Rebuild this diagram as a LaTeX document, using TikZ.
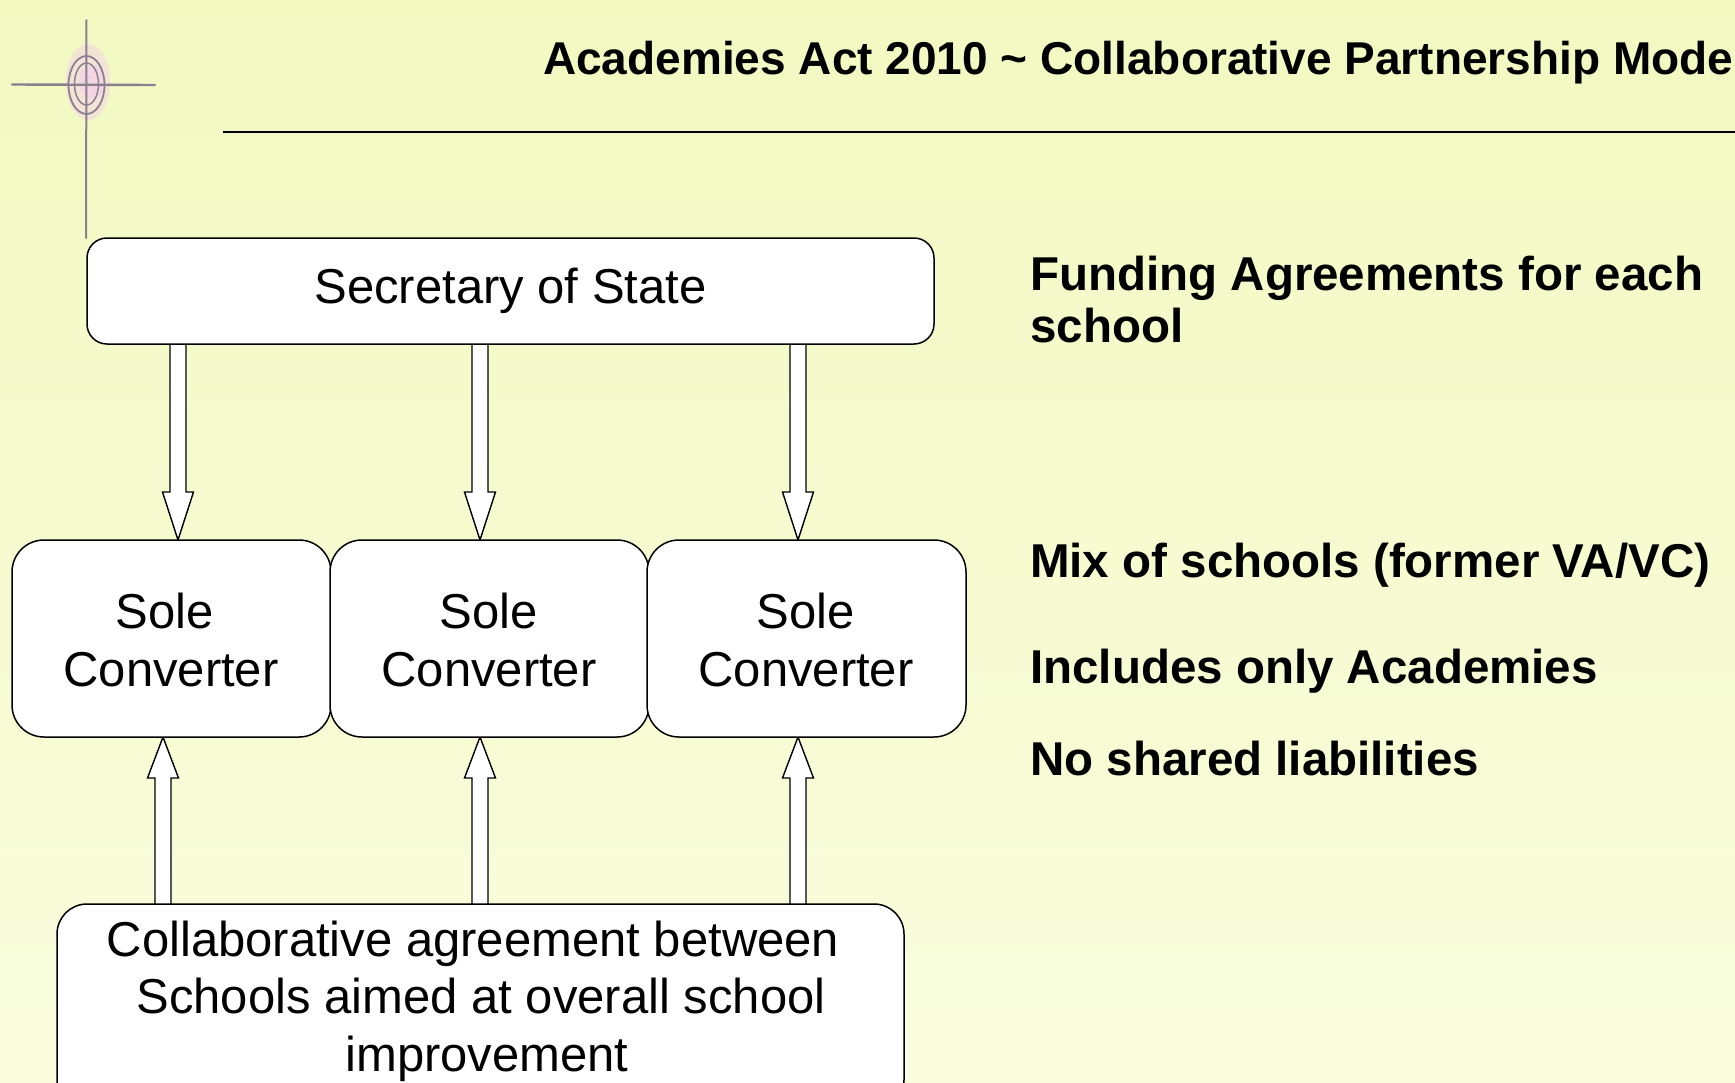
\documentclass[tikz,border=0pt]{standalone}
\usepackage{fontspec}
\setmainfont{Liberation Sans}
\usetikzlibrary{shapes.arrows}
\definecolor{bgtop}{HTML}{F2F9C1}
\definecolor{bgbot}{HTML}{F9FDDE}
\definecolor{logogrey}{HTML}{8A8090}
\definecolor{logopink}{HTML}{F3D3E6}
\tikzset{
  x=1pt,y=-1pt,
  box/.style={draw=black,fill=white,line width=1.5pt,inner sep=0pt,align=center,font=\fontsize{49}{58}\selectfont},
  fat/.style={draw=black,fill=white,line width=1.4pt,line join=miter},
  side/.style={anchor=base west,align=left,font=\fontsize{47.5}{52}\selectfont\bfseries,inner sep=0pt},
}
\newcommand{\downarrowshape}[3]{% centre x, top y, tip y
  \draw[fat] (#1-8,#2) -- (#1-8,#3-48) -- (#1-15.5,#3-48) -- (#1,#3) -- (#1+15.5,#3-48) -- (#1+8,#3-48) -- (#1+8,#2);}
\newcommand{\uparrowshape}[3]{% centre x, bottom y, tip y
  \draw[fat] (#1-8,#2) -- (#1-8,#3+41) -- (#1-15.5,#3+41) -- (#1,#3) -- (#1+15.5,#3+41) -- (#1+8,#3+41) -- (#1+8,#2);}
\begin{document}
\begin{tikzpicture}
\useasboundingbox (0,0) rectangle (1735,1082);
\clip (0,0) rectangle (1735,1082);
\shade[top color=bgtop,bottom color=bgbot] (0,0) rectangle (1735,1082);
% logo
\fill[logopink,opacity=.55] (88,82) ellipse [x radius=22,y radius=38];
\fill[logopink,opacity=.8] (92,82) ellipse [x radius=13,y radius=17];
\draw[logogrey,line width=2.4pt,line cap=round] (12,84.5) -- (155,85);
\draw[logogrey,line width=2pt,line cap=round] (86.5,20) -- (86,238);
\draw[logogrey,line width=1.8pt] (86.5,85) ellipse [x radius=18,y radius=29];
\draw[logogrey,line width=1.5pt] (86.5,84) ellipse [x radius=12,y radius=21];
% header
\node[anchor=base west,inner sep=0pt,font=\fontsize{46}{52}\selectfont\bfseries] (title) at (543,74) {Academies Act 2010 \textasciitilde{} Collaborative Partnership Model};
\coordinate (ruleL) at (223,132);
\coordinate (ruleR) at (1735,132);
\draw[black,line width=1.5pt] (ruleL) -- (ruleR);
% arrows first, so that the boxes cover their ends
\foreach \xc in {178,480,798} {\downarrowshape{\xc}{344}{540}}
\foreach \xc in {163,480,798} {\uparrowshape{\xc}{904}{737}}
% boxes
\node[box,rounded corners=20pt,minimum width=847pt,minimum height=106pt] (sec) at (510.5,291) {Secretary of State};
\node[box,rounded corners=32pt,minimum width=319pt,minimum height=197pt] (s1) at (171.5,638.5) {};
\node[box,rounded corners=32pt,minimum width=319pt,minimum height=197pt] (s2) at (489.5,638.5) {};
\node[box,rounded corners=32pt,minimum width=319pt,minimum height=197pt] (s3) at (806.5,638.5) {};
\node[box,rounded corners=30pt,minimum width=847pt,minimum height=206pt] (col) at (480.5,1007) {};
% box text
\node[font=\fontsize{49}{58}\selectfont,anchor=base,inner sep=0pt] (s1a) at (165,628) {Sole};
\node[font=\fontsize{49}{58}\selectfont,anchor=base,inner sep=0pt] (s1b) at (171,686) {Converter};
\node[font=\fontsize{49}{58}\selectfont,anchor=base,inner sep=0pt] (s2a) at (489,628) {Sole};
\node[font=\fontsize{49}{58}\selectfont,anchor=base,inner sep=0pt] (s2b) at (489,686) {Converter};
\node[font=\fontsize{49}{58}\selectfont,anchor=base,inner sep=0pt] (s3a) at (806,628) {Sole};
\node[font=\fontsize{49}{58}\selectfont,anchor=base,inner sep=0pt] (s3b) at (806,686) {Converter};
\node[font=\fontsize{49}{58}\selectfont,anchor=base,inner sep=0pt] (c1) at (473,956) {Collaborative agreement between};
\node[font=\fontsize{49}{58}\selectfont,anchor=base,inner sep=0pt] (c2) at (481,1013) {Schools aimed at overall school};
\node[font=\fontsize{49}{58}\selectfont,anchor=base,inner sep=0pt] (c3) at (487,1071) {improvement};
% side text
\node[side] (f1) at (1030,290) {Funding Agreements for each};
\node[side] (f2) at (1030,342) {school};
\node[side] (m) at (1030,577) {Mix of schools (former VA/VC)};
\node[side] (i) at (1030,683) {Includes only Academies};
\node[side] (n) at (1030,775) {No shared liabilities};
\end{tikzpicture}
\end{document}
